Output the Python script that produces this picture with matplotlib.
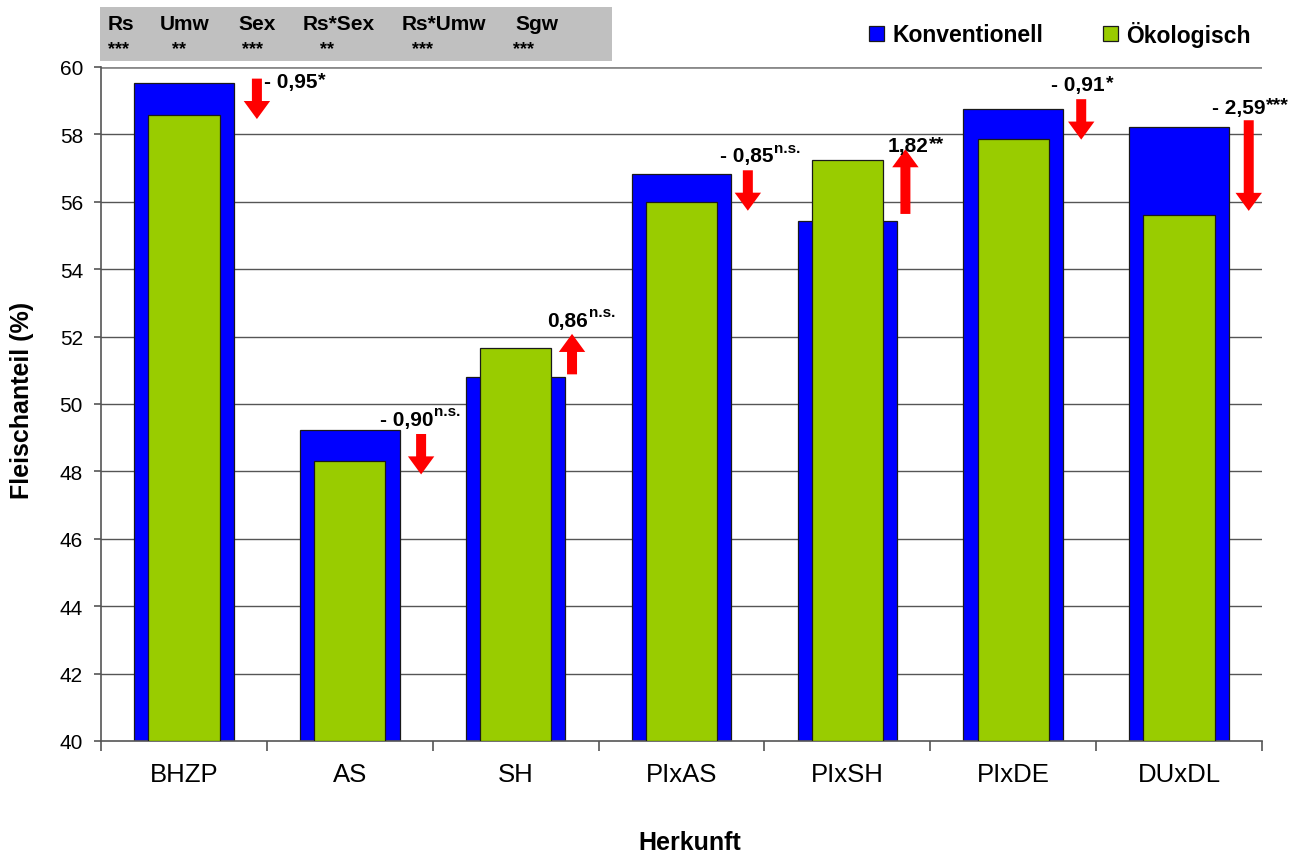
import matplotlib
matplotlib.use("Agg")
import matplotlib.pyplot as plt
from matplotlib.patches import Rectangle, FancyArrowPatch
import numpy as np

plt.rcParams['font.family'] = ['Liberation Sans', 'DejaVu Sans']

# --- data -------------------------------------------------------------
herkunft = ["BHZP", "AS", "SH", "PIxAS", "PIxSH", "PIxDE", "DUxDL"]
konventionell = [59.53, 49.22, 50.79, 56.83, 55.43, 58.76, 58.21]
oekologisch = [58.58, 48.32, 51.65, 55.98, 57.25, 57.85, 55.62]
diff_text = ["- 0,95", "- 0,90", "0,86", "- 0,85", "1,82", "- 0,91", "- 2,59"]
diff_sig = ["*", "n.s.", "n.s.", "n.s.", "**", "*", "***"]

effects = ["Rs", "Umw", "Sex", "Rs*Sex", "Rs*Umw", "Sgw"]
effect_sig = ["***", "**", "***", "**", "***", "***"]

yticks = [40, 42, 44, 46, 48, 50, 52, 54, 56, 58, 60]

# --- layout helpers (style only) -------------------------------------
arrow_dx = [0.44, 0.43, 0.34, 0.40, 0.35, 0.41, 0.42]
arrow_shift = [0.0, -0.26, 0.26, -0.07, 0.26, 0.14, 0.16]
label_dx = [0.04, -0.25, -0.15, -0.17, -0.11, -0.18, -0.22]
label_dy = [-0.38, 0.15, 0.12, 0.15, -0.18, 0.15, 0.10]
min_arrow = 1.2
effect_x = [108, 160, 238, 303, 402, 515]       # pixels
effect_sig_x = [108, 172, 242, 320, 412, 513]

W, H = 1300, 853
fig = plt.figure(figsize=(W / 100, H / 100), dpi=100)
ax = fig.add_axes([101 / W, 1 - 742 / H, (1262 - 101) / W, (742 - 68) / H])

blue = "#0000FF"
green = "#99CC00"
x = np.arange(len(herkunft))

# gridlines
for yv in yticks[1:-1]:
    ax.axhline(yv, color="#555555", lw=1.0, zorder=0)
ax.axhline(60, color="#8a8a8a", lw=2.0, zorder=0)

ax.bar(x, [k - 40 for k in konventionell], bottom=40, width=0.6, color=blue,
       edgecolor="#1a1a1a", linewidth=0.9, zorder=2)
ax.bar(x, [o - 40 for o in oekologisch], bottom=40, width=0.43, color=green,
       edgecolor="#1a1a1a", linewidth=0.9, zorder=3)

ax.set_xlim(-0.5, len(herkunft) - 0.5)
ax.set_ylim(40, 60)
ax.set_yticks(yticks)
ax.set_yticklabels([str(v) for v in yticks], fontsize=15)
ax.set_xticks(x)
ax.set_xticklabels(herkunft, fontsize=18.5)
ax.set_xticks(np.arange(-0.5, len(herkunft)), minor=True)
ax.tick_params(axis='x', which='major', length=0, pad=15)
ax.tick_params(axis='x', which='minor', length=7, width=1.2, color="#555555", direction='out')
ax.tick_params(axis='y', length=5, width=1.2, color="#555555", pad=8)

for s in ["top", "right"]:
    ax.spines[s].set_visible(False)
for s in ["left", "bottom"]:
    ax.spines[s].set_color("#555555")
    ax.spines[s].set_linewidth(1.2)

# difference arrows with labels
for i in range(len(herkunft)):
    k, o = konventionell[i], oekologisch[i]
    d = o - k
    mid = (k + o) / 2 + arrow_shift[i]
    half = max(abs(d) + 0.1, min_arrow) / 2
    sgn = np.sign(d)
    start = (i + arrow_dx[i], mid - sgn * half)
    end = (i + arrow_dx[i], mid + sgn * half)
    arr = FancyArrowPatch(start, end, arrowstyle="simple,head_length=1.3,head_width=1.9,tail_width=0.72",
                          mutation_scale=10, color="#FF0000", lw=0, shrinkA=0, shrinkB=0,
                          zorder=5, clip_on=False)
    ax.add_patch(arr)
    top = max(start[1], end[1])
    main = ax.text(i + arrow_dx[i] + label_dx[i], top + label_dy[i], diff_text[i],
                   fontsize=15, fontweight="bold", ha="left", va="bottom",
                   zorder=6, clip_on=False)
    if diff_sig[i] == "n.s.":
        sup_size, off = 11, 4
    else:
        sup_size, off = 14, 1
    ax.annotate(diff_sig[i], xy=(1, 1), xycoords=main, xytext=(0.5, off),
                textcoords="offset points", fontsize=sup_size, fontweight="bold",
                ha="left", va="top", zorder=6)

# effect significance box
fig.patches.append(Rectangle((100 / W, 1 - 62 / H), (612 - 100) / W, (62 - 8) / H,
                             transform=fig.transFigure, facecolor="#C0C0C0",
                             edgecolor="none", zorder=0))
for lab, px in zip(effects, effect_x):
    fig.text(px / W, 1 - 24 / H, lab, fontsize=15, fontweight="bold",
             ha="left", va="center")
for lab, px in zip(effect_sig, effect_sig_x):
    fig.text(px / W, 1 - 50 / H, lab, fontsize=13, fontweight="bold",
             ha="left", va="center")

# legend
for px, col, lab in [(869, blue, "Konventionell"), (1103, green, "Ökologisch")]:
    fig.patches.append(Rectangle((px / W, 1 - 42 / H), 15 / W, 15 / H,
                                 transform=fig.transFigure, facecolor=col,
                                 edgecolor="#1a1a1a", lw=0.9))
    fig.text((px + 23) / W, 1 - 35 / H, lab, fontsize=16.5, fontweight="bold",
             ha="left", va="center")

fig.text(690 / W, 1 - 843 / H, "Herkunft", fontsize=18, fontweight="bold",
         ha="center", va="center")
fig.text(22 / W, 1 - 400 / H, "Fleischanteil (%)", fontsize=18, fontweight="bold",
         ha="center", va="center", rotation=90)

fig.savefig("out.png", dpi=100, facecolor="white")
